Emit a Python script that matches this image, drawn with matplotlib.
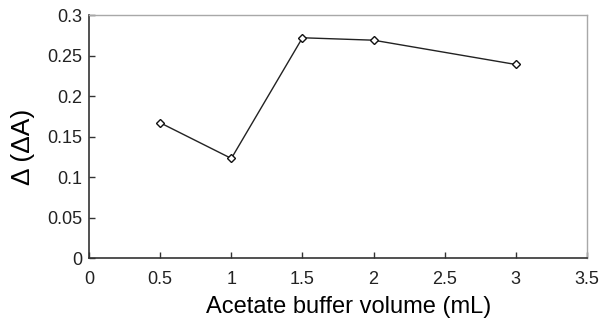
import matplotlib
matplotlib.use("Agg")
import matplotlib.pyplot as plt

plt.rcParams['font.family'] = ['Liberation Sans', 'DejaVu Sans']

# Data
volume = [0.5, 1, 1.5, 2, 3]
delta_abs = [0.167, 0.123, 0.272, 0.269, 0.239]

xticks = [0, 0.5, 1, 1.5, 2, 2.5, 3, 3.5]
xtick_labels = ["0", "0.5", "1", "1.5", "2", "2.5", "3", "3.5"]
yticks = [0, 0.05, 0.1, 0.15, 0.2, 0.25, 0.3]
ytick_labels = ["0", "0.05", "0.1", "0.15", "0.2", "0.25", "0.3"]

fig = plt.figure(figsize=(6.02, 3.21), dpi=100)
ax = fig.add_axes([0.148, 0.196, 0.827, 0.757])

ax.plot(volume, delta_abs, color='#222222', lw=1.0, marker='D', ms=4.5,
        mfc='white', mec='#111111', mew=1.0)

ax.set_xlim(0, 3.5)
ax.set_ylim(0, 0.3)
ax.set_xticks(xticks)
ax.set_xticklabels(xtick_labels)
ax.set_yticks(yticks)
ax.set_yticklabels(ytick_labels)
ax.tick_params(direction='in', length=4, width=1, labelsize=13, color='#333333',
               labelcolor='#222222', top=False, right=False)
ax.tick_params(axis='x', pad=9)
ax.tick_params(axis='y', pad=5)

for s in ['left', 'bottom']:
    ax.spines[s].set_color('#333333')
    ax.spines[s].set_linewidth(1.2)
for s in ['top', 'right']:
    ax.spines[s].set_color('#a8a8a8')
    ax.spines[s].set_linewidth(1.0)

ax.set_xlabel("Acetate buffer volume (mL)", fontsize=17)
ax.xaxis.set_label_coords(0.522, -0.155)
ax.set_ylabel("Δ (ΔA)", fontsize=19)
ax.yaxis.set_label_coords(-0.108, 0.457)

fig.savefig("out.png", dpi=100)
